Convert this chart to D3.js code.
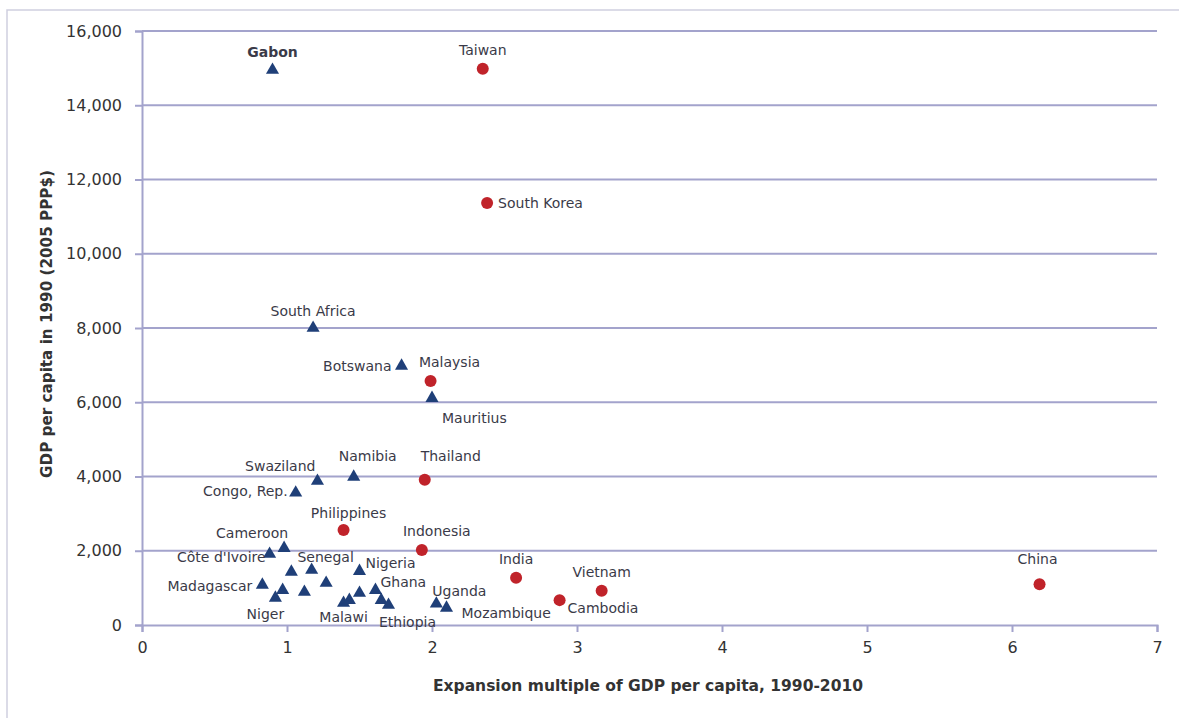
<!DOCTYPE html>
<html>
<head>
<meta charset="utf-8">
<script src="https://cdn.jsdelivr.net/npm/d3@7"></script>
<style>
  body { margin: 0; background: #fff; }
  svg { display: block; }
</style>
</head>
<body>
<script>
// Asian economies (red circles)
const asiaNames  = ['Taiwan', 'South Korea', 'Malaysia', 'Thailand', 'Philippines', 'Indonesia', 'India', 'Vietnam', 'Cambodia', 'China'];
const asiaGrowth = [2.35, 2.38, 1.99, 1.95, 1.39, 1.93, 2.58, 3.17, 2.88, 6.19];
const asiaGdp    = [14980, 11370, 6570, 3910, 2560, 2020, 1270, 920, 670, 1100];

// African economies (blue triangles), unlabelled ones have ''
const africaNames  = ['Gabon', 'South Africa', 'Botswana', 'Mauritius', 'Swaziland', 'Namibia', 'Congo, Rep.',
  'Cameroon', "Côte d'Ivoire", '', 'Senegal', '', 'Nigeria', 'Madagascar', '', 'Niger', '',
  'Malawi', '', '', 'Ghana', '', 'Ethiopia', 'Uganda', 'Mozambique'];
const africaGrowth = [0.90, 1.18, 1.79, 2.00, 1.21, 1.46, 1.06,
  0.98, 0.88, 1.03, 1.17, 1.27, 1.50, 0.83, 0.97, 0.92, 1.12,
  1.39, 1.43, 1.50, 1.61, 1.65, 1.70, 2.03, 2.10];
const africaGdp    = [14950, 8000, 6980, 6110, 3880, 3990, 3560,
  2070, 1910, 1430, 1480, 1130, 1450, 1080, 940, 730, 890,
  590, 670, 860, 940, 670, 540, 570, 460];

const xTicks = [0, 1, 2, 3, 4, 5, 6, 7];
const yTicks = [0, 2000, 4000, 6000, 8000, 10000, 12000, 14000, 16000];

// label placement: anchor, dx, dy (px from the mark)
const labelPos = {
  'Taiwan': ['middle', 0, -19], 'South Korea': ['start', 11, 0], 'Malaysia': ['middle', 19, -19],
  'Thailand': ['middle', 26, -24], 'Philippines': ['middle', 5, -17], 'Indonesia': ['middle', 15, -19],
  'India': ['middle', 0, -19], 'Vietnam': ['middle', 0, -19], 'Cambodia': ['start', 8, 8],
  'China': ['middle', -2, -25],
  'Gabon': ['middle', 0, -18], 'South Africa': ['middle', 0, -17], 'Botswana': ['end', -10, 0],
  'Mauritius': ['start', 10, 20], 'Swaziland': ['end', -2, -15], 'Namibia': ['middle', 14, -21],
  'Congo, Rep.': ['end', -8, -2], 'Cameroon': ['middle', -32, -15], "Côte d'Ivoire": ['end', -4, 3],
  'Senegal': ['middle', 14, -13], 'Nigeria': ['start', 6, -8], 'Madagascar': ['end', -10, 1],
  'Ghana': ['start', 5, -8], 'Niger': ['middle', -10, 16], 'Malawi': ['middle', 0, 14],
  'Ethiopia': ['middle', 19, 17], 'Uganda': ['start', -4, -13], 'Mozambique': ['start', 15, 5]
};

const W = 1179, H = 718;
const margin = {left: 142, right: 22, top: 31, bottom: 93};
const gridColor = '#a3a3cc';

const svg = d3.select('body').append('svg')
  .attr('width', W).attr('height', H);

// outer frame
svg.append('path')
  .attr('d', `M7,${H} V10 H${W}`)
  .attr('fill', 'none').attr('stroke', '#cfcfdf').attr('stroke-width', 1.5);

const x = d3.scaleLinear().domain([0, 7]).range([margin.left, W - margin.right]);
const y = d3.scaleLinear().domain([0, 16000]).range([H - margin.bottom, margin.top]);

// gridlines
svg.append('g').selectAll('line')
  .data(yTicks.slice(1))
  .enter().append('line')
  .attr('x1', x(0)).attr('x2', x(7))
  .attr('y1', d => y(d)).attr('y2', d => y(d))
  .attr('stroke', gridColor).attr('stroke-width', 2);

const yAxis = svg.append('g')
  .attr('transform', `translate(${x(0)},0)`)
  .call(d3.axisLeft(y).tickValues(yTicks).tickFormat(d3.format(',')).tickSize(7).tickPadding(13));
const xAxis = svg.append('g')
  .attr('transform', `translate(0,${y(0)})`)
  .call(d3.axisBottom(x).tickValues(xTicks).tickFormat(d3.format('d')).tickSize(7).tickPadding(10));

[yAxis, xAxis].forEach(a => {
  a.select('.domain').attr('stroke', gridColor).attr('stroke-width', 2);
  a.selectAll('.tick line').attr('stroke', gridColor).attr('stroke-width', 2);
  a.selectAll('.tick text').attr('fill', '#333').style('font-family', 'DejaVu Sans')
    .style('font-size', '16px');
});

// axis titles
svg.append('text')
  .attr('x', 648).attr('y', 686)
  .attr('text-anchor', 'middle').attr('dominant-baseline', 'central')
  .style('font-family', 'DejaVu Sans').style('font-weight', 'bold').style('font-size', '15.5px')
  .attr('fill', '#333')
  .text('Expansion multiple of GDP per capita, 1990-2010');

svg.append('text')
  .attr('transform', 'translate(47,324) rotate(-90)')
  .attr('text-anchor', 'middle').attr('dominant-baseline', 'central')
  .style('font-family', 'DejaVu Sans').style('font-weight', 'bold').style('font-size', '15.2px')
  .attr('fill', '#333')
  .text('GDP per capita in 1990 (2005 PPP$)');

const asia = asiaNames.map((n, i) => ({name: n, gx: asiaGrowth[i], gy: asiaGdp[i]}));
const africa = africaNames.map((n, i) => ({name: n, gx: africaGrowth[i], gy: africaGdp[i]}));

svg.append('g').selectAll('path')
  .data(africa)
  .enter().append('path')
  .attr('d', d3.symbol().type(d3.symbolTriangle).size(74))
  .attr('transform', d => `translate(${x(d.gx)},${y(d.gy)})`)
  .attr('fill', '#1f3f78');

svg.append('g').selectAll('circle')
  .data(asia)
  .enter().append('circle')
  .attr('cx', d => x(d.gx)).attr('cy', d => y(d.gy))
  .attr('r', 6)
  .attr('fill', '#c0232a');

svg.append('g').selectAll('text')
  .data(asia.concat(africa).filter(d => d.name))
  .enter().append('text')
  .attr('x', d => x(d.gx) + labelPos[d.name][1])
  .attr('y', d => y(d.gy) + labelPos[d.name][2])
  .attr('text-anchor', d => labelPos[d.name][0])
  .attr('dominant-baseline', 'central')
  .style('font-family', 'DejaVu Sans').style('font-size', '14px')
  .style('font-weight', d => d.name === 'Gabon' ? 'bold' : 'normal')
  .attr('fill', '#3a3a48')
  .text(d => d.name);
</script>
</body>
</html>
